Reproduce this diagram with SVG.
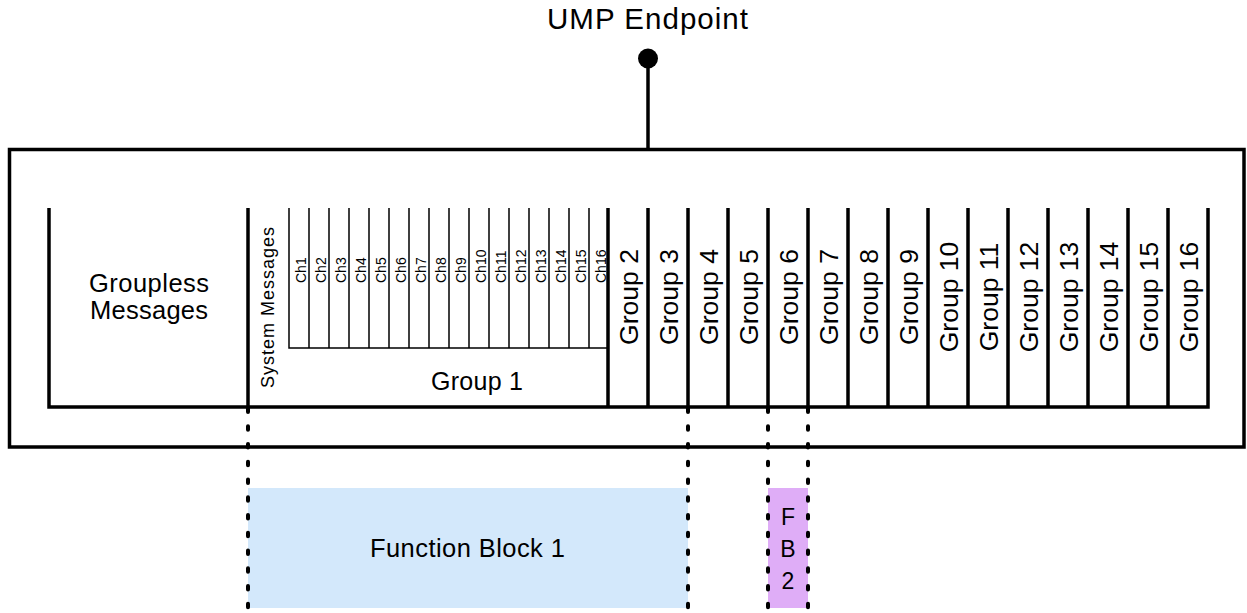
<svg xmlns="http://www.w3.org/2000/svg" width="1247" height="613" viewBox="0 0 1247 613">
<style>
text{font-family:"Liberation Sans",Arial,Helvetica,sans-serif;fill:#000}
.thick{stroke:#000;stroke-width:3.5;fill:none}
.thin{stroke:#000;stroke-width:1.5;fill:none}
.dot{stroke:#000;stroke-width:4;fill:none;stroke-dasharray:3.5 14.25;stroke-linecap:round}
.grp{font-size:26.5px;text-anchor:middle}
.ch{font-size:14px}
.fb2{font-size:23px;text-anchor:middle}
</style>
<g id="endpoint">
<text x="647.5" y="29" font-size="29.5" text-anchor="middle" textLength="201" lengthAdjust="spacing">UMP Endpoint</text>
<circle cx="648" cy="58.5" r="10" fill="#000"/>
<line x1="648" y1="58" x2="648" y2="150" class="thick"/>
</g>
<g id="endpoint-box">
<rect x="9.5" y="149.5" width="1234.5" height="297.5" class="thick"/>
</g>
<g id="groupless">
<path d="M49,208 V407 H1208 V208" class="thick"/>
<text font-size="25.5" text-anchor="middle"><tspan x="149" y="292" textLength="120" lengthAdjust="spacing">Groupless</tspan><tspan x="149" y="318.5" textLength="118" lengthAdjust="spacing">Messages</tspan></text>
</g>
<g id="group1">
<line x1="248" y1="208" x2="248" y2="407" class="thick"/>
<text transform="translate(274,388) rotate(-90)" font-size="18" textLength="161" lengthAdjust="spacing">System Messages</text>
<path d="M289,208 V348 H608 M309,208 V348 M329,208 V348 M349,208 V348 M369,208 V348 M389,208 V348 M409,208 V348 M429,208 V348 M449,208 V348 M469,208 V348 M489,208 V348 M509,208 V348 M529,208 V348 M549,208 V348 M569,208 V348 M589,208 V348" class="thin"/>
<text class="ch" transform="translate(305.5,283) rotate(-90)">Ch1</text>
<text class="ch" transform="translate(325.5,283) rotate(-90)">Ch2</text>
<text class="ch" transform="translate(345.5,283) rotate(-90)">Ch3</text>
<text class="ch" transform="translate(365.5,283) rotate(-90)">Ch4</text>
<text class="ch" transform="translate(385.5,283) rotate(-90)">Ch5</text>
<text class="ch" transform="translate(405.5,283) rotate(-90)">Ch6</text>
<text class="ch" transform="translate(425.5,283) rotate(-90)">Ch7</text>
<text class="ch" transform="translate(445.5,283) rotate(-90)">Ch8</text>
<text class="ch" transform="translate(465.5,283) rotate(-90)">Ch9</text>
<text class="ch" transform="translate(485.5,283) rotate(-90)">Ch10</text>
<text class="ch" transform="translate(505.5,283) rotate(-90)">Ch11</text>
<text class="ch" transform="translate(525.5,283) rotate(-90)">Ch12</text>
<text class="ch" transform="translate(545.5,283) rotate(-90)">Ch13</text>
<text class="ch" transform="translate(565.5,283) rotate(-90)">Ch14</text>
<text class="ch" transform="translate(585.5,283) rotate(-90)">Ch15</text>
<text class="ch" transform="translate(605.5,283) rotate(-90)">Ch16</text>
<text x="477" y="390" font-size="25" text-anchor="middle" textLength="92" lengthAdjust="spacing">Group 1</text>
</g>
<g id="groups">
<path d="M608,208 V407 M648,208 V407 M688,208 V407 M728,208 V407 M768,208 V407 M808,208 V407 M848,208 V407 M888,208 V407 M928,208 V407 M968,208 V407 M1008,208 V407 M1048,208 V407 M1088,208 V407 M1128,208 V407 M1168,208 V407" class="thick"/>
<text class="grp" transform="translate(637.5,297) rotate(-90)">Group 2</text>
<text class="grp" transform="translate(677.5,297) rotate(-90)">Group 3</text>
<text class="grp" transform="translate(717.5,297) rotate(-90)">Group 4</text>
<text class="grp" transform="translate(757.5,297) rotate(-90)">Group 5</text>
<text class="grp" transform="translate(797.5,297) rotate(-90)">Group 6</text>
<text class="grp" transform="translate(837.5,297) rotate(-90)">Group 7</text>
<text class="grp" transform="translate(877.5,297) rotate(-90)">Group 8</text>
<text class="grp" transform="translate(917.5,297) rotate(-90)">Group 9</text>
<text class="grp" transform="translate(957.5,297) rotate(-90)">Group 10</text>
<text class="grp" transform="translate(997.5,297) rotate(-90)">Group 11</text>
<text class="grp" transform="translate(1037.5,297) rotate(-90)">Group 12</text>
<text class="grp" transform="translate(1077.5,297) rotate(-90)">Group 13</text>
<text class="grp" transform="translate(1117.5,297) rotate(-90)">Group 14</text>
<text class="grp" transform="translate(1157.5,297) rotate(-90)">Group 15</text>
<text class="grp" transform="translate(1197.5,297) rotate(-90)">Group 16</text>
</g>
<g id="fb1">
<rect x="248" y="488" width="440" height="120" fill="#d3e8fb"/>
<text x="467.5" y="556.5" font-size="25.5" text-anchor="middle" textLength="195" lengthAdjust="spacing">Function Block 1</text>
</g>
<g id="fb2">
<rect x="768" y="488" width="40" height="120" fill="#dfadf7"/>
<text class="fb2" x="788" y="524.5">F</text>
<text class="fb2" x="788" y="557">B</text>
<text class="fb2" x="788" y="589">2</text>
</g>
<g id="connectors">
<line x1="248" y1="408.5" x2="248" y2="620" class="dot"/>
<line x1="688" y1="408.5" x2="688" y2="620" class="dot"/>
<line x1="768" y1="408.5" x2="768" y2="620" class="dot"/>
<line x1="808" y1="408.5" x2="808" y2="620" class="dot"/>
</g>
</svg>
